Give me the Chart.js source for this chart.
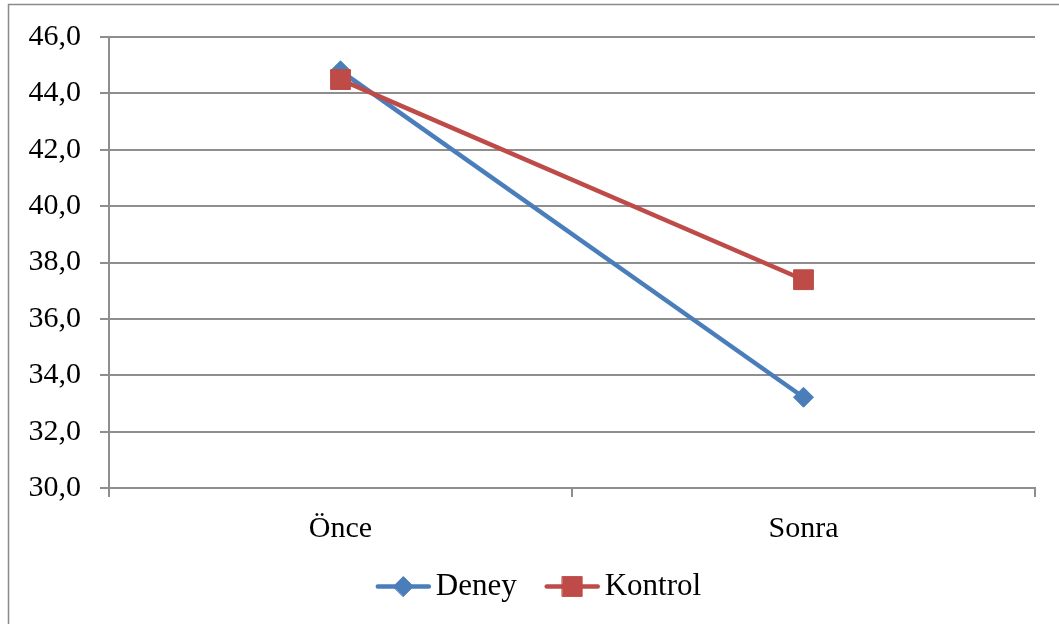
<!DOCTYPE html>
<html>
<head>
<meta charset="utf-8">
<script src="https://cdn.jsdelivr.net/npm/chart.js@4/dist/chart.umd.min.js"></script>
<style>
  html, body { margin: 0; padding: 0; background: #ffffff; }
  #wrap { width: 1059px; height: 624px; position: relative; }
</style>
</head>
<body>
<div id="wrap"><canvas id="c" width="1059" height="624"></canvas></div>
<script>
const categories = ["Önce", "Sonra"];
const seriesNames = ["Deney", "Kontrol"];
const deneyValues = [44.8, 33.22];
const kontrolValues = [44.49, 37.39];
const yMin = 30, yMax = 46, yStep = 2;

const BLUE = "#4A7EBB";
const RED = "#BE4B48";
const GRID = "#8e8e8e";
const FONT = "'Liberation Serif', 'Times New Roman', serif";

const framePlugin = {
  id: "frame",
  beforeDraw(chart) {
    const ctx = chart.ctx;
    ctx.save();
    ctx.fillStyle = "#ffffff";
    ctx.fillRect(0, 0, chart.width, chart.height);
    ctx.strokeStyle = "#8a8a8a";
    ctx.lineWidth = 1.5;
    ctx.beginPath();
    ctx.moveTo(8.5, chart.height);
    ctx.lineTo(8.5, 4.5);
    ctx.lineTo(chart.width, 4.5);
    ctx.stroke();
    ctx.restore();
  }
};

const legendShift = {
  id: "legendShift",
  afterLayout(chart) {
    const lg = chart.legend;
    if (!lg) return;
    lg.left += 21;
    lg.right += 21;
  }
};

const legendMarkers = {
  id: "legendMarkers",
  afterDraw(chart) {
    const lg = chart.legend;
    if (!lg || !lg.legendHitBoxes) return;
    const ctx = chart.ctx;
    lg.legendHitBoxes.forEach((hb, i) => {
      const item = lg.legendItems[i];
      const ds = chart.data.datasets[item.datasetIndex];
      const cy = hb.top + hb.height / 2;
      const x0 = hb.left, x1 = hb.left + 55;
      ctx.save();
      ctx.strokeStyle = ds.borderColor;
      ctx.lineWidth = 4.5;
      ctx.lineCap = "round";
      ctx.beginPath();
      ctx.moveTo(x0 + 2, cy);
      ctx.lineTo(x1 - 2, cy);
      ctx.stroke();
      ctx.fillStyle = ds.pointBackgroundColor;
      ctx.strokeStyle = ds.pointBorderColor;
      ctx.lineWidth = 1;
      Chart.helpers.drawPoint(ctx, {
        pointStyle: ds.pointStyle,
        radius: ds.pointRadius,
        borderWidth: 1,
        rotation: 0
      }, (x0 + x1) / 2, cy);
      ctx.restore();
    });
  }
};

new Chart(document.getElementById("c"), {
  type: "line",
  data: {
    labels: categories,
    datasets: [
      {
        label: seriesNames[0],
        data: deneyValues,
        borderColor: BLUE,
        backgroundColor: BLUE,
        pointBackgroundColor: BLUE,
        pointBorderColor: BLUE,
        borderWidth: 4.5,
        pointStyle: "rectRot",
        pointRadius: 10,
        pointBorderWidth: 1,
        order: 1
      },
      {
        label: seriesNames[1],
        data: kontrolValues,
        borderColor: RED,
        backgroundColor: RED,
        pointBackgroundColor: RED,
        pointBorderColor: RED,
        borderWidth: 4.5,
        pointStyle: "rect",
        pointRadius: 14,
        pointBorderWidth: 1,
        order: 0
      }
    ]
  },
  options: {
    responsive: false,
    animation: false,
    layout: { padding: { left: 0, top: 28, right: 24, bottom: 12 } },
    plugins: {
      tooltip: { enabled: false },
      legend: {
        position: "bottom",
        labels: {
          font: { family: FONT, size: 31 },
          color: "#000000",
          boxWidth: 44.5,
          boxHeight: 20,
          padding: 28,
          sort: (a, b) => a.datasetIndex - b.datasetIndex,
          generateLabels(chart) {
            const items = Chart.defaults.plugins.legend.labels.generateLabels(chart);
            items.forEach(it => {
              it.fillStyle = "rgba(0,0,0,0)";
              it.strokeStyle = "rgba(0,0,0,0)";
              it.lineWidth = 0;
              it.pointStyle = undefined;
            });
            return items;
          }
        }
      }
    },
    scales: {
      x: {
        offset: true,
        afterFit(scale) { scale.height = 55; },
        grid: {
          display: true,
          offset: true,
          drawOnChartArea: false,
          drawTicks: true,
          tickLength: 9,
          color: GRID,
          lineWidth: 2
        },
        border: { display: true, color: GRID, width: 2 },
        ticks: {
          font: { family: FONT, size: 30 },
          color: "#000000",
          padding: 14,
          maxRotation: 0
        }
      },
      y: {
        min: yMin,
        max: yMax,
        afterFit(scale) { scale.width = 109; },
        grid: {
          color: GRID,
          lineWidth: 2,
          tickLength: 9,
          drawTicks: true
        },
        border: { display: true, color: GRID, width: 2 },
        ticks: {
          stepSize: yStep,
          font: { family: FONT, size: 30 },
          color: "#000000",
          padding: 19,
          callback: (v) => Number(v).toFixed(1).replace(".", ",")
        }
      }
    }
  },
  plugins: [framePlugin, legendShift, legendMarkers]
});
</script>
</body>
</html>
